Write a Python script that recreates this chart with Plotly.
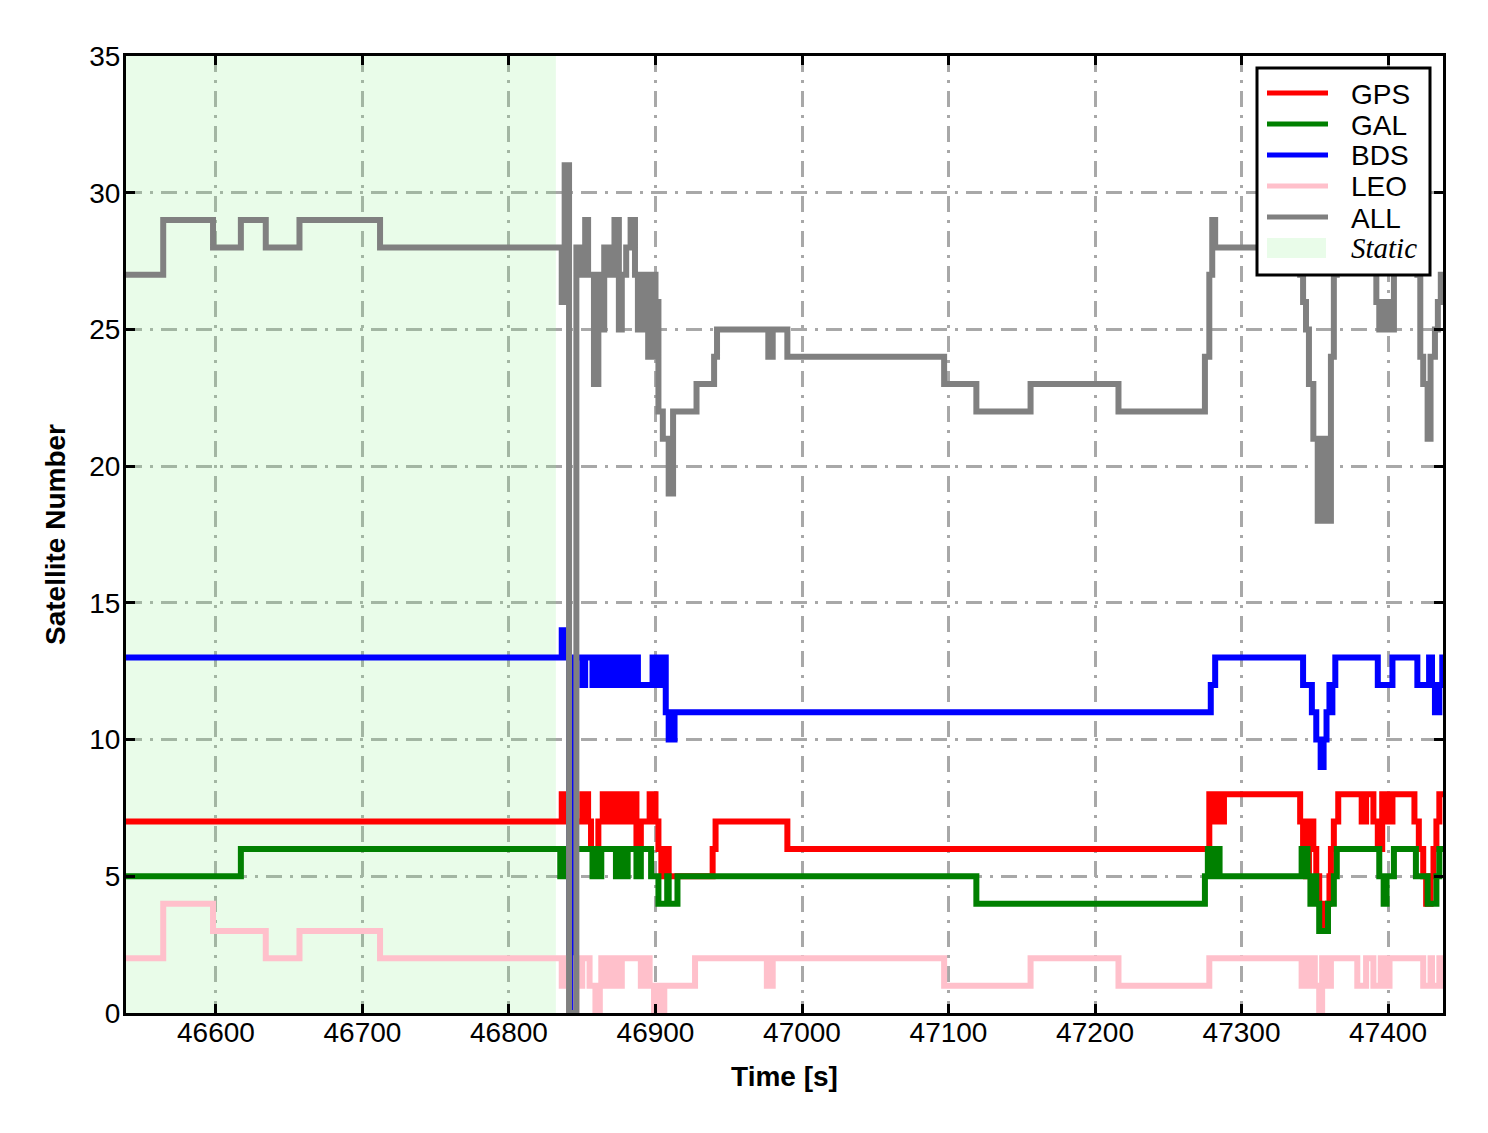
import plotly.graph_objects as go

# ---- data: change points (time [s], satellite count), drawn as step lines ----
X_START, X_END = 46538.6, 47437.5
STATIC_END = 46832

GPS_T = [46538, 46836, 46839, 46841, 46845, 46850, 46854, 46856, 46861, 46864, 46867, 46869, 46871, 46873,
         46875, 46877, 46879, 46880, 46884, 46885, 46887, 46890, 46896, 46900, 46902, 46904, 46907, 46909,
         46939, 46941, 46990, 47278, 47281, 47283, 47285, 47288, 47340, 47342, 47344, 47346, 47349, 47351,
         47353, 47354, 47358, 47360, 47361, 47363, 47366, 47382, 47385, 47390, 47393, 47396, 47398, 47400,
         47401, 47403, 47418, 47421, 47424, 47426, 47429, 47431, 47433, 47435, 47438]
GPS_V = [7, 8, 7, 0, 7, 8, 7, 6, 7, 8, 7, 8, 7, 8,
         7, 8, 7, 8, 7, 8, 6, 7, 8, 7, 6, 5, 6, 5,
         6, 7, 6, 8, 7, 8, 7, 8, 7, 6, 5, 7, 6, 5,
         4, 3, 4, 5, 6, 7, 8, 7, 8, 7, 6, 8, 7, 8,
         7, 8, 7, 6, 5, 4, 5, 6, 7, 8, 8]

GAL_T = [46538, 46617, 46835, 46838, 46841, 46845, 46857, 46859, 46862, 46863, 46873, 46876, 46879, 46881,
         46887, 46890, 46897, 46902, 46908, 46909, 46915, 47119, 47275, 47277, 47280, 47281, 47285, 47341,
         47345, 47347, 47350, 47351, 47353, 47359, 47363, 47365, 47394, 47397, 47399, 47404, 47419, 47427,
         47433, 47435, 47438]
GAL_V = [5, 6, 5, 6, 0, 6, 5, 6, 5, 6, 5, 6, 5, 6,
         5, 6, 5, 4, 5, 4, 5, 4, 5, 6, 5, 6, 5, 6,
         5, 4, 5, 4, 3, 4, 5, 6, 5, 4, 5, 6, 5, 4,
         5, 6, 6]

BDS_T = [46538, 46836, 46839, 46841, 46845, 46850, 46852, 46857, 46859, 46862, 46864, 46867, 46869, 46871,
         46873, 46876, 46878, 46882, 46884, 46888, 46898, 46901, 46905, 46907, 46909, 46913, 47279, 47282,
         47342, 47348, 47351, 47354, 47356, 47358, 47360, 47361, 47362, 47364, 47393, 47403, 47420, 47428,
         47430, 47432, 47435, 47437, 47438]
BDS_V = [13, 14, 13, 0, 13, 12, 13, 12, 13, 12, 13, 12, 13, 12,
         13, 12, 13, 12, 13, 12, 13, 12, 13, 11, 10, 11, 12, 13,
         12, 11, 10, 9, 10, 11, 12, 11, 12, 13, 12, 13, 12, 13,
         12, 11, 12, 13, 13]

LEO_T = [46538, 46564, 46598, 46634, 46657, 46712, 46836, 46839, 46841, 46846, 46848, 46850, 46855, 46859,
         46862, 46863, 46867, 46869, 46873, 46874, 46876, 46877, 46890, 46894, 46896, 46899, 46902, 46904,
         46906, 46927, 46976, 46980, 47097, 47156, 47216, 47278, 47341, 47343, 47345, 47348, 47350, 47353,
         47355, 47358, 47361, 47379, 47385, 47390, 47395, 47399, 47401, 47424, 47429, 47430, 47435, 47437,
         47438]
LEO_V = [2, 4, 3, 2, 3, 2, 1, 2, 0, 2, 1, 2, 1, 0,
         1, 2, 1, 2, 1, 2, 1, 2, 1, 2, 1, 0, 1, 0,
         1, 2, 1, 2, 1, 2, 1, 2, 1, 2, 1, 2, 1, 0,
         2, 1, 2, 1, 2, 1, 2, 1, 2, 1, 2, 1, 2, 1,
         1]

ALL_T = [46538, 46564, 46598, 46617, 46634, 46657, 46712, 46836, 46838, 46841, 46846, 46850, 46852, 46854,
         46858, 46861, 46863, 46865, 46868, 46872, 46875, 46877, 46880, 46883, 46886, 46888, 46891, 46895,
         46898, 46900, 46902, 46905, 46909, 46912, 46928, 46940, 46942, 46977, 46980, 46990, 47097, 47119,
         47156, 47216, 47275, 47278, 47280, 47282, 47340, 47342, 47344, 47346, 47349, 47352, 47355, 47358,
         47361, 47363, 47365, 47392, 47394, 47396, 47398, 47400, 47402, 47404, 47420, 47422, 47424, 47427,
         47429, 47432, 47434, 47436, 47438]
ALL_V = [27, 29, 28, 29, 28, 29, 28, 26, 31, 0, 28, 27, 29, 27,
         23, 27, 25, 28, 27, 29, 25, 27, 28, 29, 27, 25, 27, 24,
         27, 26, 22, 21, 19, 22, 23, 24, 25, 24, 25, 24, 23, 22,
         23, 22, 24, 27, 29, 28, 27, 26, 25, 23, 21, 18, 21, 18,
         24, 27, 28, 26, 25, 26, 25, 26, 25, 28, 27, 24, 23, 21,
         24, 25, 26, 27, 27]

SERIES = [("GPS", GPS_T, GPS_V, "#ff0000"),
          ("GAL", GAL_T, GAL_V, "#008000"),
          ("BDS", BDS_T, BDS_V, "#0000ff"),
          ("LEO", LEO_T, LEO_V, "#ffc0cb"),
          ("ALL", ALL_T, ALL_V, "#808080")]
STATIC_LABEL = "Static"
STATIC_FILL = "rgba(144,238,144,0.2)"

X_TICKS = [46600, 46700, 46800, 46900, 47000, 47100, 47200, 47300, 47400]
Y_TICKS = [0, 5, 10, 15, 20, 25, 30, 35]

FONT = "Liberation Sans, Arial, sans-serif"
SERIF = "Liberation Serif, Times New Roman, serif"

fig = go.Figure()

# static period shading
fig.add_trace(go.Scatter(
    x=[X_START, STATIC_END, STATIC_END, X_START, X_START],
    y=[0, 0, 35, 35, 0],
    fill="toself", fillcolor=STATIC_FILL,
    mode="lines", line=dict(width=0, color="rgba(0,0,0,0)"),
    name=STATIC_LABEL, showlegend=False, hoverinfo="skip"))

for name, t, v, c in SERIES:
    fig.add_trace(go.Scatter(x=t, y=v, mode="lines", name=name,
                             line=dict(color=c, width=6, shape="hv"),
                             showlegend=False))

grid = dict(showgrid=True, gridcolor="#a8a8a8", gridwidth=3, griddash="16px,8px,3px,8px")
axis_common = dict(showline=True, linecolor="black", linewidth=3, mirror="ticks",
                   ticks="inside", ticklen=9, tickwidth=2.5, tickcolor="black",
                   zeroline=False, tickfont=dict(family=FONT, size=28, color="black"))

fig.update_xaxes(range=[X_START, X_END], tickvals=X_TICKS, tickformat="d", ticklabelstandoff=-8,
                 title=dict(text="<b>Time [s]</b>", font=dict(family=FONT, size=28, color="black"), standoff=20),
                 **grid, **axis_common)
fig.update_yaxes(range=[0, 35], tickvals=Y_TICKS, ticklabelstandoff=-3,
                 title=dict(text="<b>Satellite Number</b>", font=dict(family=FONT, size=28, color="black"), standoff=16),
                 **grid, **axis_common)

# ---- manual legend (paper coordinates) ----
PW, PH = 1317.0, 957.0
def px2x(px):
    return (px - 126) / PW
def py2y(py):
    return (1013 - py) / PH

shapes = [dict(type="rect", xref="paper", yref="paper",
               x0=px2x(1257), x1=px2x(1430), y0=py2y(275), y1=py2y(68),
               line=dict(color="black", width=3), fillcolor="white", layer="above")]
annots = []
row_y = [93, 124, 155, 186, 217, 248]
for (name, _, _, c), ry in zip(SERIES, row_y):
    shapes.append(dict(type="line", xref="paper", yref="paper",
                       x0=px2x(1267), x1=px2x(1328), y0=py2y(ry), y1=py2y(ry),
                       line=dict(color=c, width=5), layer="above"))
    annots.append(dict(xref="paper", yref="paper", x=px2x(1349), y=py2y(ry + 1),
                       xanchor="left", yanchor="middle", showarrow=False, text=name,
                       font=dict(family=FONT, size=28, color="black")))
shapes.append(dict(type="rect", xref="paper", yref="paper",
                   x0=px2x(1267), x1=px2x(1326), y0=py2y(258), y1=py2y(238),
                   line=dict(width=0), fillcolor=STATIC_FILL, layer="above"))
annots.append(dict(xref="paper", yref="paper", x=px2x(1349), y=py2y(row_y[5]),
                   xanchor="left", yanchor="middle", showarrow=False,
                   text="<i>" + STATIC_LABEL + "</i>",
                   font=dict(family=SERIF, size=29, color="black")))

fig.update_layout(
    width=1472, height=1117,
    margin=dict(l=118, r=37, t=48, b=112),
    plot_bgcolor="white", paper_bgcolor="white",
    font=dict(family=FONT, size=28, color="black"),
    shapes=shapes, annotations=annots,
    showlegend=False,
)

fig.write_html("out.html")
